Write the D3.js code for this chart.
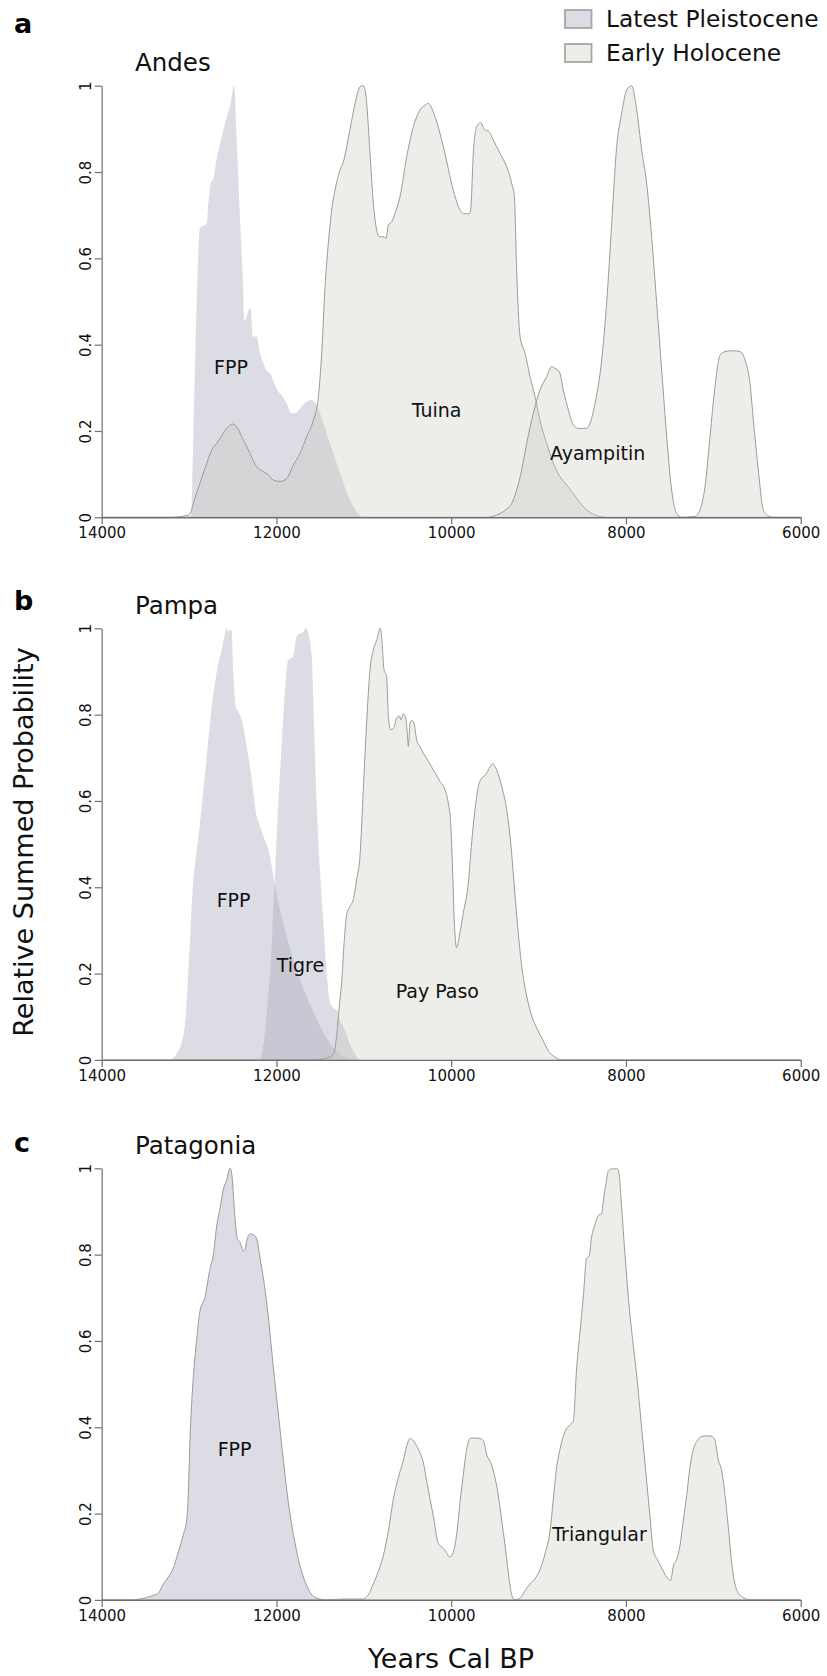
<!DOCTYPE html>
<html><head><meta charset="utf-8">
<script src="https://cdn.jsdelivr.net/npm/d3@7"></script>
<style>body{margin:0;background:#fff}svg{display:block}text{font-family:"DejaVu Sans",sans-serif}</style>
</head><body><svg id="chart" width="827" height="1676"></svg>
<script>
// ---------- data: [year cal BP, relative summed probability] ----------
const xTicks = [14000, 12000, 10000, 8000, 6000];
const yTicks = [0, 0.2, 0.4, 0.6, 0.8, 1];
const legendLabels = ["Latest Pleistocene", "Early Holocene"];
const panelNames = ["Andes", "Pampa", "Patagonia"];
const panelLetters = ["a", "b", "c"];

const andesFPP = [[14000,0],[12978,0],[12951,0.187],[12913,0.496],[12875,0.67],[12798,0.68],[12779,0.727],[12752,0.774],[12722,0.785],[12684,0.83],[12607,0.897],[12569,0.928],[12524,0.959],[12485,1.0],[12455,0.88],[12417,0.69],[12386,0.557],[12367,0.457],[12340,0.465],[12321,0.48],[12295,0.484],[12272,0.419],[12226,0.419],[12188,0.38],[12150,0.357],[12104,0.337],[12073,0.334],[12035,0.314],[11978,0.291],[11940,0.283],[11883,0.264],[11833,0.241],[11787,0.241],[11730,0.252],[11654,0.268],[11597,0.272],[11539,0.26],[11463,0.218],[11387,0.171],[11310,0.125],[11234,0.079],[11158,0.04],[11082,0.013],[11005,0],[6000,0]];
const andesTuina = [[14000,0],[13218,0],[13008,0.005],[12978,0.013],[12951,0.032],[12875,0.079],[12798,0.125],[12741,0.156],[12684,0.171],[12607,0.195],[12550,0.21],[12501,0.216],[12455,0.21],[12398,0.187],[12321,0.156],[12226,0.117],[12150,0.106],[12092,0.098],[12035,0.086],[11959,0.083],[11883,0.09],[11806,0.121],[11730,0.148],[11654,0.187],[11577,0.225],[11520,0.28],[11482,0.38],[11444,0.534],[11406,0.635],[11368,0.712],[11330,0.758],[11272,0.805],[11227,0.828],[11196,0.859],[11139,0.92],[11082,0.975],[11043,0.998],[11005,1.0],[10975,0.975],[10929,0.843],[10891,0.727],[10853,0.666],[10822,0.65],[10769,0.65],[10746,0.646],[10719,0.677],[10681,0.685],[10643,0.704],[10586,0.743],[10509,0.836],[10433,0.905],[10357,0.944],[10300,0.955],[10262,0.959],[10185,0.928],[10090,0.859],[9976,0.758],[9918,0.72],[9861,0.704],[9792,0.703],[9777,0.712],[9747,0.843],[9709,0.905],[9663,0.914],[9613,0.897],[9575,0.895],[9518,0.874],[9441,0.843],[9365,0.812],[9308,0.774],[9277,0.743],[9251,0.573],[9212,0.419],[9155,0.38],[9098,0.326],[9041,0.28],[8984,0.225],[8907,0.171],[8831,0.125],[8755,0.094],[8678,0.075],[8564,0.044],[8450,0.017],[8335,0.004],[8221,0],[6000,0]];
const andesAyampitin = [[14000,0],[9600,0],[9441,0.009],[9365,0.019],[9308,0.032],[9251,0.063],[9193,0.11],[9136,0.171],[9060,0.241],[8984,0.295],[8907,0.326],[8850,0.349],[8812,0.345],[8762,0.337],[8717,0.295],[8659,0.249],[8602,0.214],[8545,0.206],[8488,0.206],[8450,0.206],[8411,0.218],[8354,0.264],[8278,0.364],[8221,0.496],[8163,0.681],[8106,0.859],[8049,0.936],[7992,0.99],[7935,1.0],[7877,0.944],[7820,0.851],[7763,0.774],[7706,0.65],[7648,0.496],[7591,0.341],[7534,0.187],[7477,0.063],[7419,0.009],[7362,0],[7210,0.002],[7153,0.017],[7095,0.071],[7038,0.187],[6981,0.303],[6923,0.376],[6866,0.384],[6771,0.386],[6695,0.384],[6637,0.364],[6580,0.31],[6542,0.225],[6485,0.11],[6428,0.017],[6370,0.003],[6313,0],[6000,0]];

const pampaFPP = [[14000,0],[13218,0],[13161,0.009],[13123,0.021],[13084,0.04],[13046,0.086],[13020,0.163],[12989,0.279],[12959,0.395],[12920,0.472],[12875,0.549],[12836,0.626],[12779,0.742],[12741,0.819],[12703,0.873],[12665,0.919],[12627,0.95],[12588,0.988],[12569,1.0],[12550,0.992],[12531,0.997],[12512,0.992],[12493,0.896],[12466,0.819],[12436,0.807],[12398,0.788],[12360,0.749],[12321,0.703],[12283,0.649],[12226,0.564],[12188,0.541],[12150,0.518],[12092,0.487],[12054,0.449],[12016,0.402],[11959,0.349],[11883,0.287],[11806,0.233],[11730,0.187],[11654,0.148],[11577,0.112],[11501,0.078],[11425,0.05],[11349,0.028],[11272,0.012],[11196,0.004],[11100,0],[6000,0]];
const pampaTigre = [[14000,0],[12188,0],[12157,0.025],[12131,0.063],[12104,0.125],[12073,0.202],[12043,0.318],[12016,0.433],[11990,0.549],[11959,0.665],[11921,0.796],[11890,0.888],[11864,0.927],[11825,0.931],[11806,0.938],[11768,0.981],[11730,0.988],[11692,0.992],[11665,1.0],[11635,0.988],[11596,0.934],[11570,0.78],[11539,0.588],[11501,0.433],[11463,0.318],[11425,0.202],[11387,0.133],[11349,0.121],[11310,0.116],[11280,0.094],[11242,0.079],[11204,0.063],[11166,0.04],[11120,0.021],[11074,0.005],[11043,0],[6000,0]];
const pampaPayPaso = [[14000,0],[11578,0],[11425,0.004],[11349,0.013],[11311,0.056],[11280,0.125],[11254,0.179],[11223,0.279],[11196,0.337],[11158,0.356],[11120,0.372],[11082,0.418],[11044,0.472],[11006,0.626],[10968,0.78],[10929,0.904],[10891,0.95],[10846,0.977],[10815,1.0],[10796,0.98],[10769,0.904],[10739,0.888],[10719,0.796],[10693,0.765],[10662,0.768],[10624,0.792],[10594,0.797],[10575,0.788],[10548,0.802],[10525,0.795],[10502,0.757],[10491,0.726],[10471,0.78],[10452,0.787],[10426,0.78],[10395,0.742],[10357,0.726],[10319,0.711],[10262,0.692],[10205,0.672],[10128,0.645],[10071,0.626],[10033,0.595],[10006,0.549],[9983,0.433],[9964,0.318],[9937,0.26],[9907,0.287],[9861,0.341],[9804,0.41],[9766,0.503],[9728,0.58],[9689,0.634],[9651,0.653],[9602,0.661],[9564,0.676],[9525,0.686],[9480,0.672],[9422,0.634],[9365,0.58],[9319,0.503],[9281,0.41],[9243,0.318],[9193,0.217],[9136,0.148],[9079,0.102],[9014,0.071],[8946,0.044],[8888,0.021],[8831,0.009],[8774,0.002],[8755,0],[6000,0]];

const patagoniaFPP = [[14000,0],[13714,0],[13561,0.002],[13447,0.008],[13351,0.016],[13294,0.037],[13237,0.053],[13180,0.074],[13123,0.111],[13065,0.152],[13027,0.185],[13008,0.25],[12989,0.374],[12970,0.456],[12943,0.538],[12913,0.603],[12875,0.669],[12817,0.702],[12760,0.768],[12722,0.8],[12684,0.866],[12646,0.907],[12607,0.952],[12569,0.973],[12531,1.0],[12508,0.981],[12474,0.883],[12447,0.837],[12417,0.829],[12379,0.809],[12360,0.813],[12340,0.833],[12302,0.848],[12264,0.846],[12226,0.837],[12188,0.792],[12142,0.735],[12092,0.653],[12035,0.538],[11978,0.431],[11921,0.324],[11864,0.226],[11806,0.152],[11749,0.094],[11692,0.053],[11635,0.025],[11577,0.008],[11501,0.002],[11425,0],[6000,0]];
const patagoniaTriangular = [[14000,0],[11425,0],[11234,0.002],[11010,0.002],[10948,0.012],[10891,0.037],[10834,0.066],[10776,0.103],[10719,0.16],[10662,0.234],[10605,0.283],[10547,0.324],[10509,0.357],[10471,0.374],[10433,0.369],[10386,0.353],[10357,0.341],[10319,0.318],[10281,0.275],[10242,0.234],[10204,0.193],[10147,0.131],[10109,0.123],[10071,0.115],[10014,0.099],[9976,0.111],[9937,0.152],[9899,0.226],[9861,0.291],[9823,0.349],[9777,0.375],[9728,0.375],[9670,0.374],[9632,0.369],[9594,0.337],[9537,0.312],[9499,0.283],[9461,0.242],[9422,0.185],[9384,0.127],[9346,0.062],[9308,0.012],[9277,0],[9213,0.004],[9155,0.021],[9098,0.037],[9041,0.049],[8984,0.07],[8926,0.107],[8869,0.16],[8831,0.234],[8793,0.308],[8755,0.349],[8698,0.39],[8640,0.406],[8602,0.415],[8564,0.538],[8526,0.62],[8488,0.702],[8450,0.792],[8423,0.796],[8392,0.842],[8354,0.87],[8316,0.891],[8278,0.895],[8259,0.924],[8228,0.965],[8202,0.993],[8163,0.999],[8137,0.998],[8106,1.0],[8080,0.989],[8049,0.907],[8011,0.8],[7973,0.702],[7915,0.587],[7877,0.521],[7839,0.439],[7801,0.357],[7763,0.275],[7725,0.193],[7687,0.115],[7641,0.094],[7591,0.074],[7534,0.053],[7488,0.045],[7458,0.078],[7419,0.094],[7381,0.127],[7343,0.185],[7305,0.242],[7267,0.308],[7229,0.349],[7183,0.369],[7133,0.379],[7076,0.38],[7019,0.379],[6981,0.369],[6943,0.324],[6905,0.3],[6866,0.242],[6828,0.168],[6790,0.086],[6752,0.037],[6714,0.016],[6676,0.008],[6618,0.002],[6580,0],[6000,0]];

// ---------- layout / style ----------
const W = 827, H = 1676;
const xLeft = 101.7, xRight = 800.7, panelH = 431.6;
const panelTops = [85.7, 628.3, 1168.3];
const COL = {
  pleiFill: "rgba(173,173,192,0.43)",
  holoFill: "rgba(200,200,190,0.33)",
  stroke: "#9b9b9b",
  axis: "#6f6f6f",
  text: "#111"
};

const panels = [
  { series: [
      {data: andesFPP, period: 0, outline: false},
      {data: andesTuina, period: 1, outline: true},
      {data: andesAyampitin, period: 1, outline: true}],
    labels: [["FPP", 214, 374], ["Tuina", 411.7, 416.5], ["Ayampitin", 550, 460]] },
  { series: [
      {data: pampaFPP, period: 0, outline: false},
      {data: pampaTigre, period: 0, outline: false},
      {data: pampaPayPaso, period: 1, outline: true}],
    labels: [["FPP", 216.7, 906.7], ["Tigre", 276.7, 971.7], ["Pay Paso", 395.7, 998.3]] },
  { series: [
      {data: patagoniaFPP, period: 0, outline: true},
      {data: patagoniaTriangular, period: 1, outline: true}],
    labels: [["FPP", 217.7, 1456], ["Triangular", 552.3, 1541]] }
];

const svg = d3.select("#chart");
const x = d3.scaleLinear().domain([14000, 6000]).range([xLeft, xRight]);

panels.forEach((p, i) => {
  const top = panelTops[i], bottom = top + panelH;
  const y = d3.scaleLinear().domain([0, 1]).range([bottom, top]);
  const g = svg.append("g");
  const area = d3.area().x(d => x(d[0])).y0(y(0)).y1(d => y(d[1])).curve(d3.curveMonotoneX);
  const line = d3.line().x(d => x(d[0])).y(d => y(d[1])).curve(d3.curveMonotoneX);

  p.series.forEach(s => {
    g.append("path").attr("d", area(s.data))
      .attr("fill", s.period === 0 ? COL.pleiFill : COL.holoFill);
    if (s.outline) g.append("path").attr("d", line(s.data))
      .attr("fill", "none").attr("stroke", COL.stroke).attr("stroke-width", 1);
  });

  // x axis
  const xa = g.append("g").attr("transform", `translate(0,${bottom})`)
    .call(d3.axisBottom(x).tickValues(xTicks).tickSize(7).tickSizeOuter(0).tickFormat(d3.format("d")));
  xa.select(".domain").attr("stroke", COL.axis).attr("stroke-width", 1.4);
  xa.selectAll(".tick line").attr("stroke", COL.axis).attr("stroke-width", 1.2);
  xa.selectAll(".tick text").attr("font-size", 15).attr("font-family", "DejaVu Sans")
    .attr("fill", COL.text).attr("y", 10).attr("dy", "0.71em");

  // y axis
  const ya = g.append("g").attr("transform", `translate(${xLeft},0)`)
    .call(d3.axisLeft(y).tickValues(yTicks).tickSize(7).tickSizeOuter(0).tickFormat(d => d3.format("~g")(d)));
  ya.select(".domain").attr("stroke", COL.axis).attr("stroke-width", 1.2);
  ya.selectAll(".tick line").attr("stroke", COL.axis).attr("stroke-width", 1.2);
  ya.selectAll(".tick text").attr("font-size", 15).attr("font-family", "DejaVu Sans")
    .attr("fill", COL.text).attr("x", null).attr("dy", null)
    .attr("text-anchor", "middle")
    .attr("transform", "translate(-11,0) rotate(-90)");

  // panel title & letter
  svg.append("text").attr("x", 135).attr("y", top - 14.5).attr("font-size", 24.5)
    .attr("fill", COL.text).text(panelNames[i]);
  // series labels
  p.labels.forEach(l => {
    svg.append("text").attr("x", l[1]).attr("y", l[2]).attr("font-size", 19)
      .attr("fill", COL.text).text(l[0]);
  });
});

const letterY = [33, 610, 1152];
panelLetters.forEach((t, i) => {
  svg.append("text").attr("x", 14).attr("y", letterY[i]).attr("font-size", 27)
    .attr("font-weight", "bold").attr("font-family", "Liberation Sans, Arial, sans-serif")
    .attr("fill", "#000").text(t);
});

// legend
const legFills = ["rgb(220,220,228)", "rgb(237,237,234)"];
legendLabels.forEach((t, i) => {
  const yy = [10, 44][i];
  svg.append("rect").attr("x", 565).attr("y", yy).attr("width", 26.5).attr("height", 18)
    .attr("fill", legFills[i]).attr("stroke", "#a6a6a6").attr("stroke-width", 1.8);
  svg.append("text").attr("x", 606).attr("y", yy + 17).attr("font-size", 23.3)
    .attr("fill", COL.text).text(t);
});

// axis titles
svg.append("text").attr("transform", "translate(33,842) rotate(-90)")
  .attr("text-anchor", "middle").attr("font-size", 27).attr("fill", COL.text)
  .text("Relative Summed Probability");
svg.append("text").attr("x", 451).attr("y", 1668).attr("text-anchor", "middle")
  .attr("font-size", 27).attr("fill", COL.text).text("Years Cal BP");
</script></body></html>
